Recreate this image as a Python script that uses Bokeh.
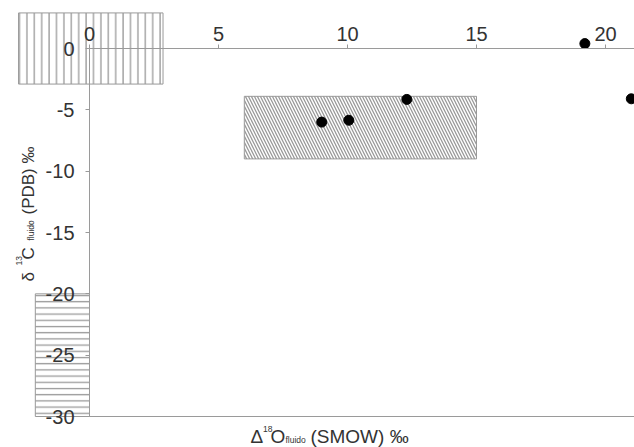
import math
from bokeh.plotting import figure
from bokeh.models import LinearAxis, FixedTicker, Label, ColumnDataSource, Range1d
from bokeh.embed import file_html
from bokeh.resources import INLINE

# ---------------- data ----------------
x_ticks = [0, 5, 10, 15, 20]
x_tick_labels = ["0", "5", "10", "15", "20"]
y_ticks = [0, -5, -10, -15, -20, -25, -30]
y_tick_labels = ["0", "-5", "-10", "-15", "-20", "-25", "-30"]

d18o_fluid = [9.0, 10.05, 12.3, 19.2, 21.0]
d13c_fluid = [-6.0, -5.85, -4.15, 0.4, -4.1]

box_left = [-2.75, -2.1, 6.0]
box_right = [2.85, 0.0, 15.0]
box_bottom = [-2.9, -30.0, -9.0]
box_top = [2.9, -20.0, -3.9]
box_hatch = ["|", "-", "\\"]
box_scale = [7.4, 6.2, 6.0]

# ---------------- layout ----------------
W, H = 634, 447
PX_X, PX_Y = 25.8, 12.267    # pixels per data unit
X0_PX, Y0_PX = 89, 48        # canvas position of data origin
x_start, x_end = -X0_PX / PX_X, (W - X0_PX) / PX_X
y_start, y_end = -(H - Y0_PX) / PX_Y, Y0_PX / PX_Y

def dx(cx):
    return (cx - X0_PX) / PX_X

def dy(cy):
    return (Y0_PX - cy) / PX_Y

FONT = "Liberation Sans"
TXT = "#333333"
AXC = "#9a9a9a"
HATCH = "#999999"

p = figure(width=W, height=H, x_range=Range1d(x_start, x_end),
           y_range=Range1d(y_start, y_end), x_axis_type=None, y_axis_type=None,
           toolbar_location=None, output_backend="svg", min_border=0)
p.outline_line_color = None
p.background_fill_color = "white"

boxes = ColumnDataSource(dict(left=box_left, right=box_right, bottom=box_bottom,
                              top=box_top, hatch=box_hatch, scale=box_scale))
p.quad(left="left", right="right", bottom="bottom", top="top", source=boxes,
       fill_color="white", line_color=HATCH, line_width=1,
       hatch_pattern="hatch", hatch_scale="scale", hatch_color=HATCH,
       hatch_weight=1.3)

p.scatter(d18o_fluid, d13c_fluid, size=10, color="black")

def style_axis(ax):
    ax.axis_line_color = AXC
    ax.axis_line_width = 1
    ax.major_tick_line_color = AXC
    ax.major_tick_out = 4
    ax.major_tick_in = 0
    ax.minor_tick_line_color = None
    ax.major_label_text_font = FONT
    ax.major_label_text_font_size = "20px"
    ax.major_label_text_color = TXT

xa = LinearAxis(fixed_location=0, ticker=FixedTicker(ticks=x_ticks),
                major_label_overrides=dict(zip(x_ticks, x_tick_labels)),
                bounds=(0, x_end))
style_axis(xa)
xa.major_label_standoff = 4
p.add_layout(xa, "above")

ya = LinearAxis(fixed_location=0, ticker=FixedTicker(ticks=y_ticks),
                major_label_overrides=dict(zip(y_ticks, y_tick_labels)),
                bounds=(-30, 0))
style_axis(ya)
ya.major_label_standoff = 11
p.add_layout(ya, "left")

xb = LinearAxis(fixed_location=-30, ticker=FixedTicker(ticks=[]), bounds=(0, x_end))
style_axis(xb)
xb.major_tick_line_color = None
xb.major_label_text_font_size = "0px"
p.add_layout(xb, "below")

# ---------------- axis titles (pieces for super/subscripts) ----------------
def lab(text, cx, cy, size, angle=0.0):
    p.add_layout(Label(x=dx(cx), y=dy(cy), text=text, text_font=FONT,
                       text_font_size=size, text_color=TXT, text_align="left",
                       text_baseline="alphabetic", angle=angle))

# x title: Δ18O fluido (SMOW) ‰
base = 436
lab("\u0394", 250, base, "19px")
lab("18", 262.5, base - 8, "8.5px")
lab("O", 270, base, "19px")
lab("fluido", 285, base + 3, "8.5px")
lab("(SMOW) \u2030", 310, base, "19px")

# y title: δ 13C fluido (PDB) ‰ (rotated, reading upwards)
a = math.pi / 2
bx = 28
lab("\u03b4", bx, 281, "17px", a)
lab("13", bx - 10, 265, "8.5px", a)
lab("C", bx, 259, "17px", a)
lab("fluido", bx + 2, 240, "8.5px", a)
lab("(PDB) \u2030", bx, 214, "17px", a)

open("out.html", "w").write(file_html(p, INLINE))
